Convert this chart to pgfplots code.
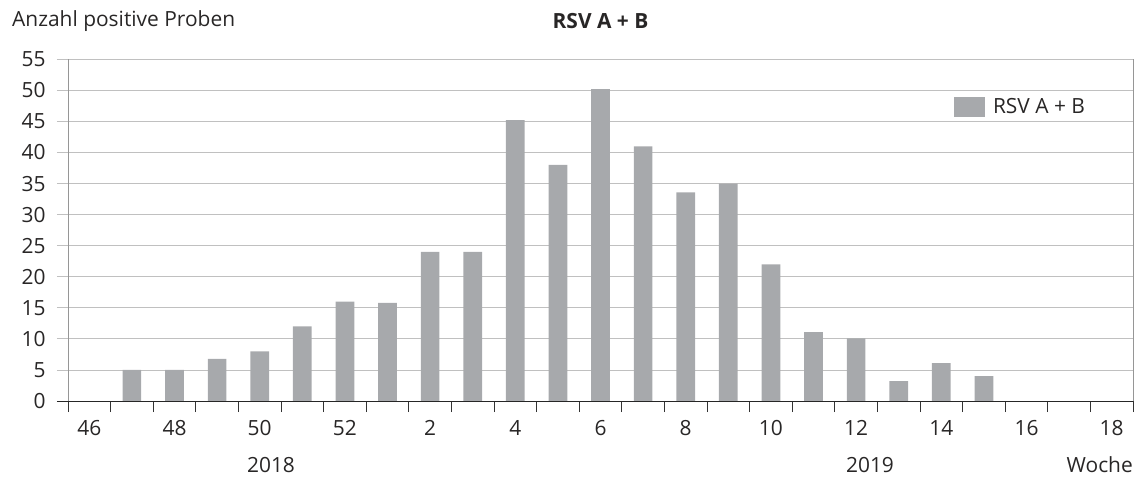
\documentclass[border=0pt]{standalone}
\usepackage{pgfplots}
\pgfplotsset{compat=1.18}
\usepackage{fontspec}
\setmainfont{Open Sans}
\definecolor{barc}{RGB}{167,169,172}
\definecolor{gridc}{RGB}{192,192,192}
\definecolor{txt}{RGB}{40,38,38}
\definecolor{yax}{RGB}{150,150,150}
\pgfplotstableread{
x y
1 5
2 5
3 6.8
4 8
5 12
6 16
7 15.8
8 24
9 24
10 45.2
11 38
12 50.2
13 41
14 33.6
15 35
16 22
17 11.1
18 10.1
19 3.2
20 6.1
21 4
}\rsvdata
\newcommand{\fs}{\fontsize{21}{24}\selectfont}
\begin{document}
\begin{tikzpicture}
\path[use as bounding box] (-68bp,-76bp) rectangle (1079bp,401bp);
\begin{axis}[
  at={(0bp,0bp)}, anchor=south west,
  scale only axis, width=1065bp, height=341.7bp,
  xmin=-0.5, xmax=24.5, ymin=0, ymax=55,
  ytick={0,5,...,55},
  xtick={-0.5,0.5,...,24.5},
  xticklabels={46,{},48,{},50,{},52,{},2,{},4,{},6,{},8,{},10,{},12,{},14,{},16,{},18,{},{}},
  x tick label style={xshift=21.3bp, yshift=-5bp},
  y tick label style={xshift=-8bp},
  major tick length=11bp,
  tick align=outside,
  xtick pos=bottom, ytick pos=left,
  xtick style={color=black!80, line width=0.8bp},
  ytick style={color=gridc, line width=0.8bp},
  ymajorgrids,
  major grid style={color=gridc, line width=0.8bp},
  axis line style={draw=none},
  tick label style={font=\fs, text=txt},
  /pgf/number format/assume math mode=true,
  legend style={draw=none, fill=none, at={(axis description cs:0.829,0.86)}, anchor=west,
    font=\fs, text=txt},
  clip=false,
]
\addplot[ybar, bar width=18.7bp, bar shift=0pt, fill=barc, draw=none,
  legend image code/.code={\fill[barc] (0bp,-10bp) rectangle (31bp,10bp); \path (37bp,0bp);}]
  table[x=x, y=y] {\rsvdata};
\addlegendentry{RSV A + B}
\draw[yax, line width=0.8bp] (rel axis cs:0,0) -- (rel axis cs:0,1);
\draw[yax, line width=0.8bp] (rel axis cs:1,0) -- (rel axis cs:1,1);
\draw[black!85, line width=0.9bp] ([xshift=-11bp]rel axis cs:0,0) -- (rel axis cs:1,0);
\end{axis}
\node[anchor=center, font=\fs\bfseries, text=txt] at (532.5bp,380bp) {RSV A + B};
\node[anchor=west, inner sep=0pt, font=\fs, text=txt] at (-56bp,380bp) {Anzahl positive Proben};
\node[anchor=center, font=\fs, text=txt] at (203bp,-64bp) {2018};
\node[anchor=center, font=\fs, text=txt] at (802bp,-64bp) {2019};
\node[anchor=east, inner sep=0pt, font=\fs, text=txt] at (1065bp,-64bp) {Woche};
\end{tikzpicture}
\end{document}
